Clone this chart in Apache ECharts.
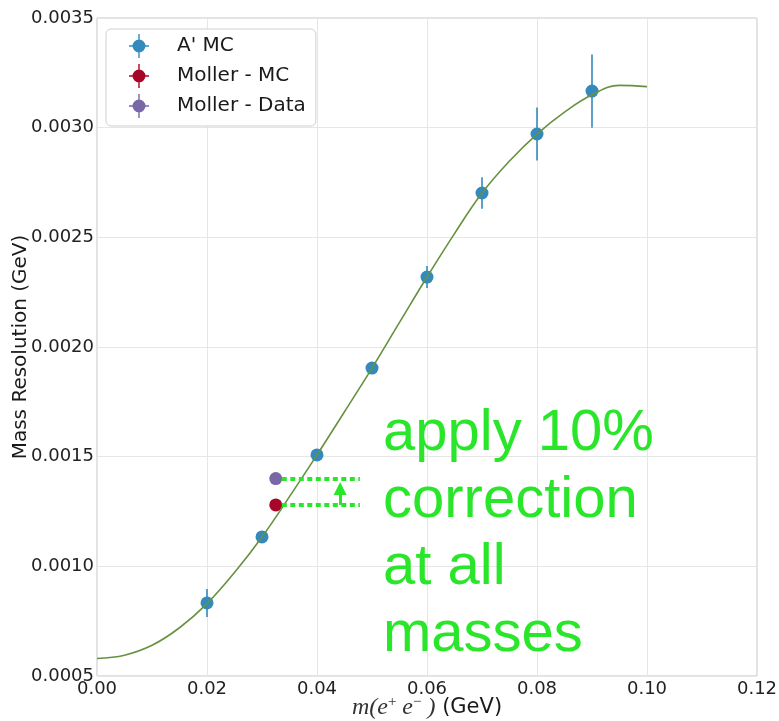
<!DOCTYPE html>
<html>
<head>
<meta charset="utf-8">
<script src="https://cdn.jsdelivr.net/npm/echarts@6/dist/echarts.min.js"></script>
<style>
  html, body { margin: 0; padding: 0; background: #ffffff; }
  #chart { width: 779px; height: 721px; }
</style>
</head>
<body>
<div id="chart"></div>
<script>
// A' Monte Carlo mass points (GeV), resolution (GeV) and its uncertainty
const apMass = [0.02, 0.03, 0.04, 0.05, 0.06, 0.07, 0.08, 0.09];
const apRes  = [0.000833, 0.001134, 0.001508, 0.001904, 0.002319, 0.002702, 0.002971, 0.003167];
const apErr  = [0.000064, 0.000022, 0.000020, 0.000020, 0.000050, 0.000072, 0.000121, 0.000167];

// Moller pair mass and resolution, simulation vs data
const mollerMass = [0.0325];
const mollerMC   = [0.00128];
const mollerData = [0.00140];

// Smooth fit through the A' points
const fitMass = [0, 0.005, 0.01, 0.015, 0.02, 0.025, 0.03, 0.035, 0.04, 0.045, 0.05,
                 0.055, 0.06, 0.065, 0.07, 0.075, 0.08, 0.085, 0.09, 0.095, 0.10];
const fitRes  = [0.000580, 0.000595, 0.000640, 0.000720, 0.000830, 0.000972, 0.001134,
                 0.001318, 0.001508, 0.001705, 0.001904, 0.002112, 0.002319, 0.002517,
                 0.002702, 0.002848, 0.002971, 0.003071, 0.003150, 0.003193, 0.003187];

// Axis ticks
const xTicks = [0, 0.12, 0.02];          // min, max, step
const yTicks = [0.0005, 0.0035, 0.0005]; // min, max, step

// Annotation: dotted guides from the Moller points and the correction arrow
const guideSpan = [0.0336, 0.0478];
const arrowMass = 0.0442;
const arrowTip = 0.001355;
const noteText = 'apply 10%\ncorrection\nat all\nmasses';

const BLUE = '#348ABD', RED = '#A60628', PURPLE = '#7A68A6', FIT = '#66923f', NOTE = '#2ae62a';

// Legend icon: marker with an error-bar cross
const errIcon = 'path://M5.5,12 A6.5,6.5 0 1 1 18.5,12 A6.5,6.5 0 1 1 5.5,12 Z ' +
                'M2,11.3 L22,11.3 L22,12.7 L2,12.7 Z M11.3,0 L12.7,0 L12.7,24 L11.3,24 Z';

const chart = echarts.init(document.getElementById('chart'));

const axisText = { fontFamily: 'DejaVu Sans', fontSize: 18, color: '#222222' };

chart.setOption({
  animation: false,
  backgroundColor: '#ffffff',
  grid: {
    left: 97, right: 22, top: 18, bottom: 45,
    outerBoundsMode: 'none',
    containLabel: false,
    show: true, borderColor: '#c4c4c4', borderWidth: 1
  },
  legend: {
    data: ["A' MC", 'Moller - MC', 'Moller - Data'],
    orient: 'vertical',
    left: 106, top: 29,
    padding: [5, 10, 8, 23],
    itemGap: 6,
    itemWidth: 20, itemHeight: 24,
    icon: errIcon,
    backgroundColor: '#ffffff',
    borderColor: '#d0d0d0', borderWidth: 1, borderRadius: 5,
    textStyle: { fontFamily: 'DejaVu Sans', fontSize: 20, color: '#1a1a1a', padding: [0, 0, 0, 23] },
    selectedMode: false
  },
  xAxis: {
    type: 'value',
    min: xTicks[0], max: xTicks[1], interval: xTicks[2],
    axisLine: { show: false },
    axisTick: { show: false },
    splitLine: { show: true, lineStyle: { color: '#e6e6e6', width: 1 } },
    axisLabel: Object.assign({ margin: 4, formatter: v => v.toFixed(2) }, axisText),
    name: '{it|m(e}{sup|+}{it| e}{sup|\u2212}{it| )} (GeV)',
    nameLocation: 'middle',
    nameGap: 19,
    nameMoveOverlap: false,
    nameTextStyle: {
      fontFamily: 'DejaVu Sans', fontSize: 21, color: '#1a1a1a',
      rich: {
        it: { fontFamily: 'Liberation Serif', fontStyle: 'italic', fontSize: 24, color: '#333333' },
        sup: { fontFamily: 'Liberation Serif', fontSize: 15, color: '#333333', padding: [0, 0, 10, 0] }
      }
    }
  },
  yAxis: {
    type: 'value',
    min: yTicks[0], max: yTicks[1], interval: yTicks[2],
    axisLine: { show: false },
    axisTick: { show: false },
    splitLine: { show: true, lineStyle: { color: '#e6e6e6', width: 1 } },
    axisLabel: Object.assign({ margin: 3, formatter: v => v.toFixed(4) }, axisText),
    name: 'Mass Resolution (GeV)',
    nameLocation: 'middle',
    nameGap: 66,
    nameMoveOverlap: false,
    nameTextStyle: { fontFamily: 'DejaVu Sans', fontSize: 20, color: '#1a1a1a' }
  },
  graphic: [{
    type: 'text',
    left: 383, top: 400,
    z: 100,
    style: {
      text: noteText,
      font: '58px "Liberation Sans", Arial, sans-serif',
      fill: NOTE,
      lineHeight: 67
    }
  }],
  series: [
    {
      // vertical error bars of the A' points
      type: 'custom',
      name: 'errbars',
      z: 2,
      silent: true,
      encode: { x: 0, y: 1 },
      data: apMass.map((m, i) => [m, apRes[i], apErr[i]]),
      renderItem: function (params, api) {
        const x = api.value(0), y = api.value(1), e = api.value(2);
        const hi = api.coord([x, y + e]);
        const lo = api.coord([x, y - e]);
        return {
          type: 'line',
          shape: { x1: hi[0], y1: hi[1], x2: lo[0], y2: lo[1] },
          style: { stroke: BLUE, lineWidth: 1.6 }
        };
      }
    },
    {
      name: "A' MC",
      type: 'scatter',
      z: 3,
      symbol: 'circle',
      symbolSize: 13,
      itemStyle: { color: BLUE, opacity: 1 },
      data: apMass.map((m, i) => [m, apRes[i]])
    },
    {
      name: 'Moller - MC',
      type: 'scatter',
      z: 3,
      symbol: 'circle',
      symbolSize: 13,
      itemStyle: { color: RED, opacity: 1 },
      data: mollerMass.map((m, i) => [m, mollerMC[i]])
    },
    {
      name: 'Moller - Data',
      type: 'scatter',
      z: 3,
      symbol: 'circle',
      symbolSize: 13,
      itemStyle: { color: PURPLE, opacity: 1 },
      data: mollerMass.map((m, i) => [m, mollerData[i]]),
      markLine: {
        silent: true,
        symbol: ['none', 'none'],
        label: { show: false },
        emphasis: { disabled: true },
        data: [
          [{ coord: [guideSpan[0], mollerData[0]], lineStyle: { color: NOTE, width: 4, type: [5, 3.5] } },
           { coord: [guideSpan[1], mollerData[0]] }],
          [{ coord: [guideSpan[0], mollerMC[0]], lineStyle: { color: NOTE, width: 4, type: [5, 3.5] } },
           { coord: [guideSpan[1], mollerMC[0]] }],
          [{ coord: [arrowMass, mollerMC[0]], lineStyle: { color: NOTE, width: 3, type: 'solid' } },
           { coord: [arrowMass, arrowTip], symbol: 'triangle', symbolSize: [13, 13] }]
        ]
      }
    },
    {
      name: 'fit',
      type: 'line',
      z: 4,
      smooth: 0.4,
      showSymbol: false,
      silent: true,
      lineStyle: { color: FIT, width: 1.6 },
      data: fitMass.map((m, i) => [m, fitRes[i]])
    }
  ]
});
</script>
</body>
</html>
